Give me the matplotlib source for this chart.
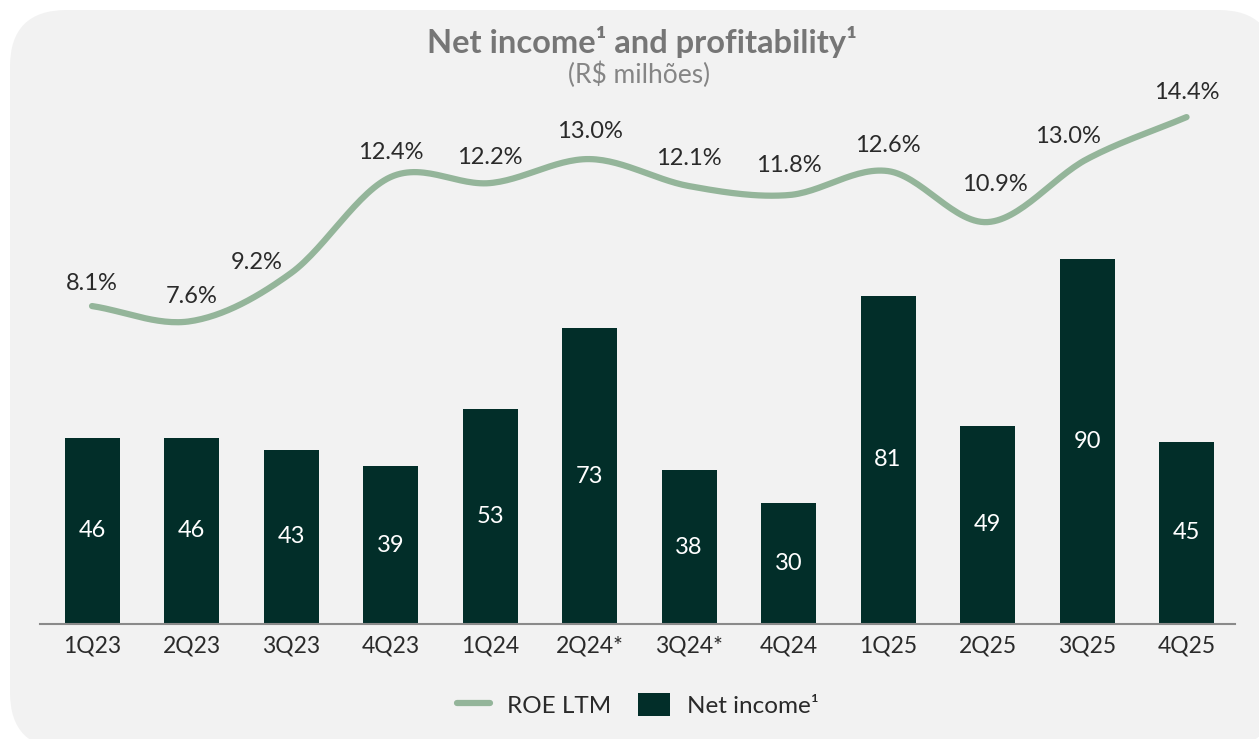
import numpy as np
import matplotlib
matplotlib.use("Agg")
import matplotlib.pyplot as plt
from matplotlib.patches import FancyBboxPatch
from matplotlib.lines import Line2D
from matplotlib.patches import Patch

plt.rcParams["font.family"] = ["Lato", "DejaVu Sans"]

# ── DATA ────────────────────────────────────────────────
quarters   = ["1Q23", "2Q23", "3Q23", "4Q23", "1Q24", "2Q24*",
              "3Q24*", "4Q24", "1Q25", "2Q25", "3Q25", "4Q25"]
net_income = [46, 46, 43, 39, 53, 73, 38, 30, 81, 49, 90, 45]
roe_ltm    = [8.1, 7.6, 9.2, 12.4, 12.2, 13.0, 12.1, 11.8, 12.6, 10.9, 13.0, 14.4]

# label nudges (pixels) for the ROE labels
roe_dx = [0, 0, -34, 0, 0, 0, 0, 0, 0, 7, -19, 0]
roe_dy = [23, 25, 11, 25, 26, 28, 28, 30, 26, 38, 23, 25]

BAR_COLOR  = "#022e29"
LINE_COLOR = "#94b59a"
TEXT_COLOR = "#2a2a2a"
WEIGHT     = "normal"

W, H = 1259, 739
fig = plt.figure(figsize=(W / 100, H / 100), dpi=100)
fig.patch.set_facecolor("white")

# rounded grey panel
bg = FancyBboxPatch((10 / W, -10 / H), 1265 / W, 739 / H,
                    boxstyle="round,pad=0,rounding_size=0.045",
                    transform=fig.transFigure, facecolor="#f2f2f2",
                    edgecolor="none", mutation_aspect=W / H, zorder=0)
fig.patches.append(bg)


def smooth(xs, ys, n=30):
    # catmull-rom style smoothing for drawing the line
    xs = np.asarray(xs, float)
    ys = np.asarray(ys, float)
    px = np.concatenate([[2 * xs[0] - xs[1]], xs, [2 * xs[-1] - xs[-2]]])
    py = np.concatenate([[2 * ys[0] - ys[1]], ys, [2 * ys[-1] - ys[-2]]])
    out_x, out_y = [], []
    for i in range(1, len(px) - 2):
        t = np.linspace(0, 1, n, endpoint=False)
        for arr, out in ((px, out_x), (py, out_y)):
            p0, p1, p2, p3 = arr[i - 1], arr[i], arr[i + 1], arr[i + 2]
            out.extend(0.5 * ((2 * p1) + (-p0 + p2) * t
                              + (2 * p0 - 5 * p1 + 4 * p2 - p3) * t ** 2
                              + (-p0 + 3 * p1 - 3 * p2 + p3) * t ** 3))
    out_x.append(xs[-1])
    out_y.append(ys[-1])
    return np.array(out_x), np.array(out_y)


# axes in pixel geometry
ax_left, ax_right, ax_top, ax_bottom = 40, 1235, 100, 624
ax = fig.add_axes([ax_left / W, (H - ax_bottom) / H,
                   (ax_right - ax_left) / W, (ax_bottom - ax_top) / H])
ax.set_facecolor("none")
ax.set_zorder(2)

x = np.arange(len(quarters))
ax.bar(x, net_income, width=0.553, color=BAR_COLOR, zorder=2)
ax.set_xlim(-0.523, 11.487)
ax.set_ylim(0, (ax_bottom - ax_top) / 4.05)

for xi, v in zip(x, net_income):
    ax.text(xi, v / 2, f"{v}", ha="center", va="center", color="white",
            fontsize=17, fontweight=WEIGHT)

ax.set_xticks(x)
ax.set_xticklabels(quarters, fontsize=16.5, fontweight=WEIGHT, color=TEXT_COLOR)
ax.tick_params(axis="x", length=0, pad=8)
ax.set_yticks([])
for s in ["top", "right", "left"]:
    ax.spines[s].set_visible(False)
ax.spines["bottom"].set_color("#8a8a8a")
ax.spines["bottom"].set_linewidth(1.5)

ax2 = ax.twinx()
ax2.set_ylim(-2.5, 14.97)
ax2.set_yticks([])
for s in ax2.spines.values():
    s.set_visible(False)
sx, sy = smooth(x, roe_ltm)
ax2.plot(sx, sy, color=LINE_COLOR, linewidth=4.5, solid_capstyle="round", zorder=3)

for xi, v, dx, dy in zip(x, roe_ltm, roe_dx, roe_dy):
    ax2.annotate(f"{v:.1f}%", (xi, v), xytext=(dx, dy), textcoords="offset pixels",
                 ha="center", va="center", fontsize=17, fontweight=WEIGHT,
                 color=TEXT_COLOR)

# titles
fig.text(642 / W, (H - 42) / H, "Net income¹ and profitability¹", ha="center",
         va="center", fontsize=23.5, fontweight="bold", color="#767676")
fig.text(639 / W, (H - 75) / H, "(R$ milhões)", ha="center", va="center",
         fontsize=19, fontweight=WEIGHT, color="#858585")

handles = [Line2D([0], [0], color=LINE_COLOR, linewidth=4.5, solid_capstyle="round"),
           Patch(facecolor=BAR_COLOR)]
leg = fig.legend(handles, ["ROE LTM", "Net income¹"], loc="center",
                 bbox_to_anchor=(638 / W, (H - 705) / H), ncol=2, frameon=False,
                 prop={"size": 17.5, "weight": WEIGHT}, handlelength=1.35,
                 handleheight=1.1, columnspacing=1.1, handletextpad=0.7)
for t in leg.get_texts():
    t.set_color(TEXT_COLOR)

fig.savefig("out.png", dpi=100)
